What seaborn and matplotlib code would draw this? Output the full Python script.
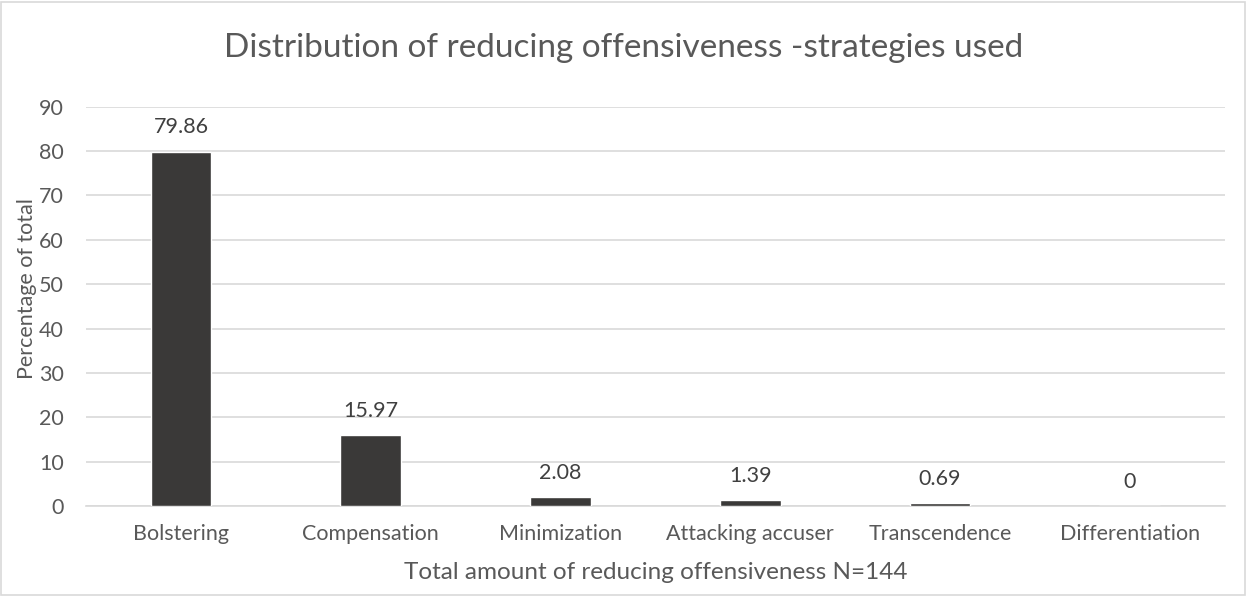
import pandas as pd
import matplotlib.pyplot as plt
import seaborn as sns
from matplotlib.patches import Rectangle

# ---------- Data ----------
strategies = ["Bolstering", "Compensation", "Minimization",
              "Attacking accuser", "Transcendence", "Differentiation"]
percentages = [79.86, 15.97, 2.08, 1.39, 0.69, 0]
value_labels = ["79.86", "15.97", "2.08", "1.39", "0.69", "0"]

df = pd.DataFrame({"Strategy": strategies, "Percentage": percentages})

sns.set_style("white")
plt.rcParams["font.family"] = ["Lato", "DejaVu Sans"]

text_col = "#595959"

fig = plt.figure(figsize=(12.47, 5.96), dpi=100)
ax = fig.add_axes([0.069, 0.151, 0.913, 0.67])

sns.barplot(data=df, x="Strategy", y="Percentage", color="#3a3938",
            width=0.32, saturation=1, ax=ax, zorder=3)

for i, lab in enumerate(value_labels):
    ax.text(i, percentages[i] + 3.2, lab, ha="center", va="bottom",
            fontsize=15.5, color="#404040")

ax.set_ylim(0, 90)
ax.set_yticks(range(0, 91, 10))
ax.yaxis.grid(True, color="#d9d9d9", linewidth=1.2, zorder=0)
ax.tick_params(axis="both", length=0, labelsize=15.5, labelcolor=text_col)
ax.tick_params(axis="x", pad=13)
ax.tick_params(axis="y", pad=16)
for s in ["top", "right", "left"]:
    ax.spines[s].set_visible(False)
ax.spines["bottom"].set_color("#d9d9d9")
ax.spines["bottom"].set_linewidth(1.2)

ax.set_ylabel("Percentage of total", fontsize=15.5, color=text_col)
ax.yaxis.set_label_coords(-0.043, 0.545)
ax.set_xlabel("Total amount of reducing offensiveness N=144", fontsize=17.5,
              color=text_col, labelpad=13)

fig.suptitle("Distribution of reducing offensiveness -strategies used",
             fontsize=24, color=text_col, y=0.945)

fig.patches.append(Rectangle((0.001, 0.002), 0.997, 0.995, transform=fig.transFigure,
                             fill=False, edgecolor="#d9d9d9", linewidth=1.2))

fig.savefig("out.png", dpi=100, facecolor="white")
